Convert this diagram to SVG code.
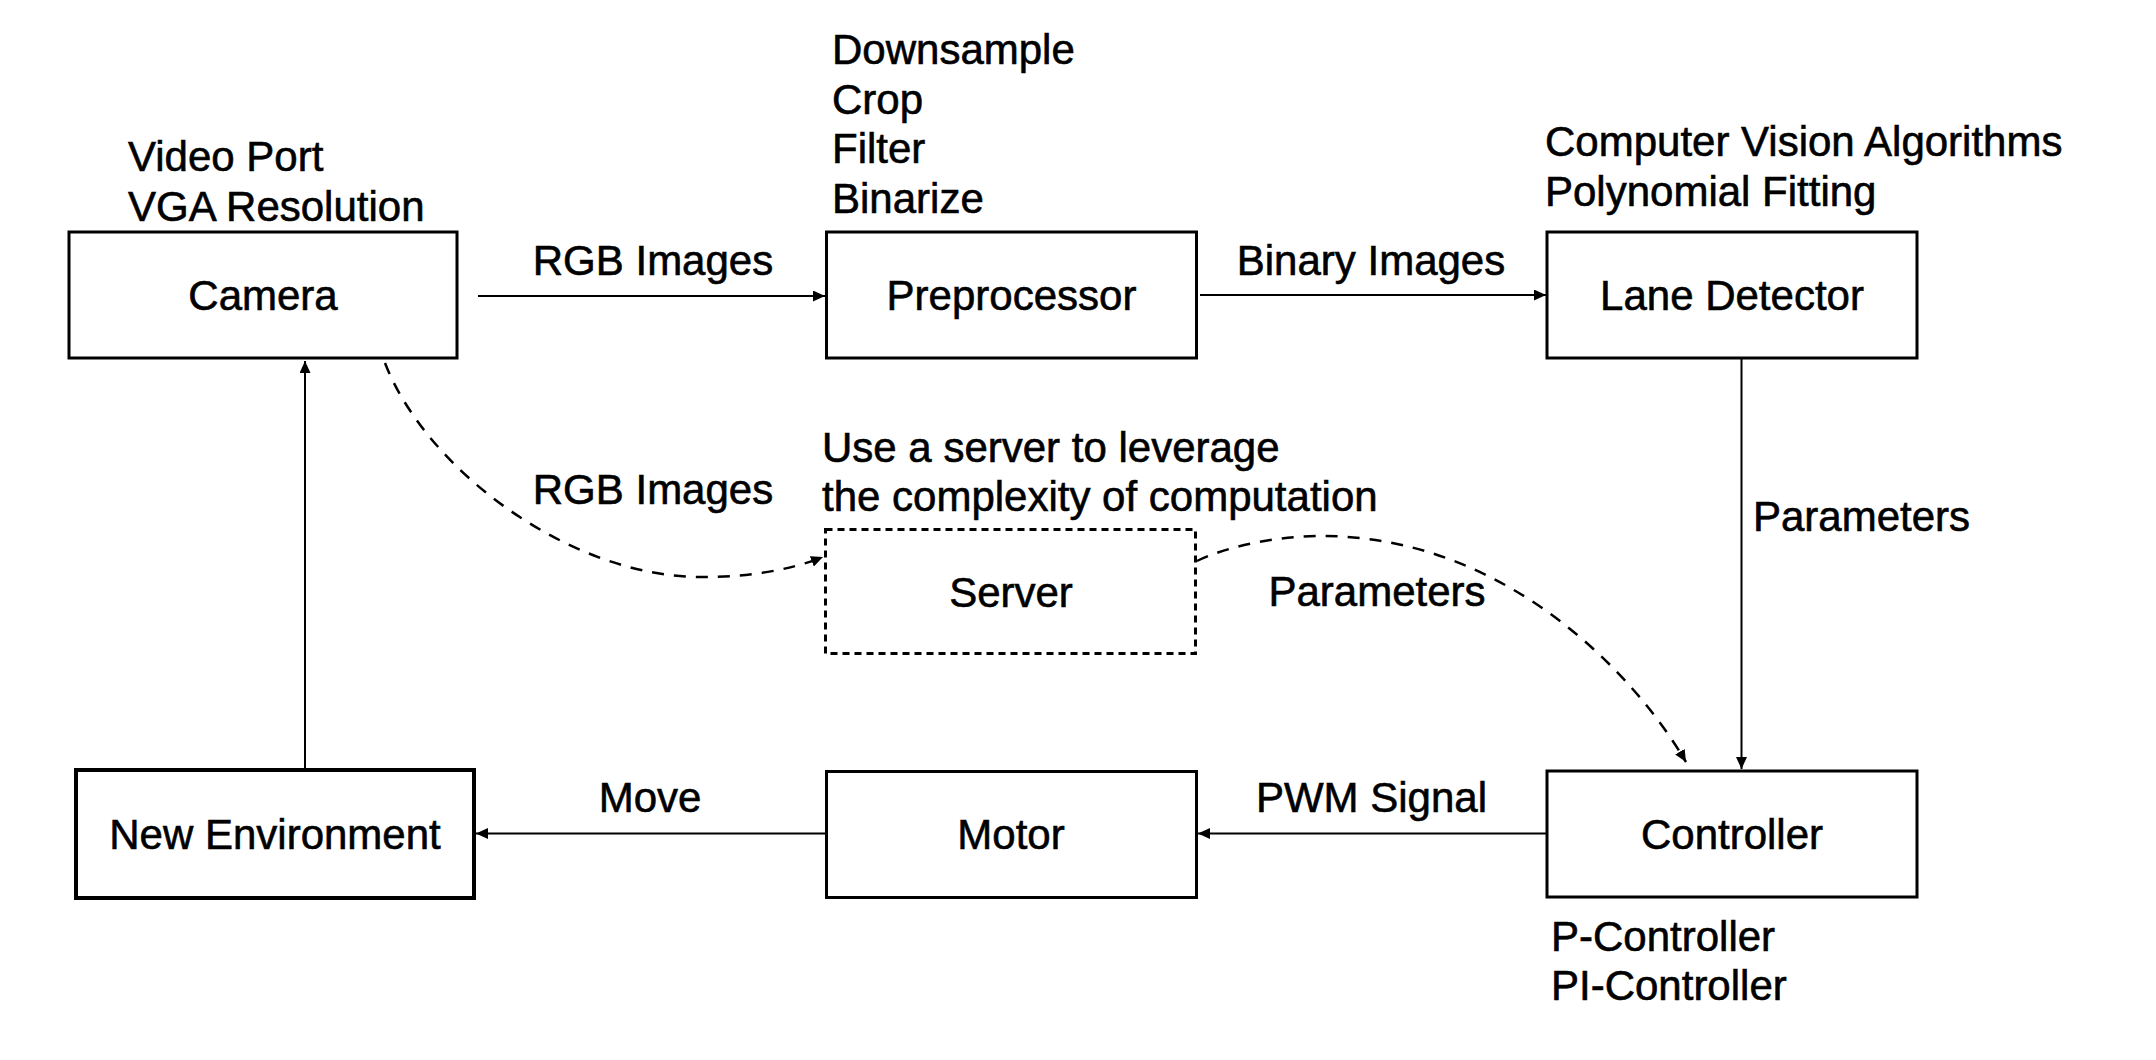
<svg xmlns="http://www.w3.org/2000/svg" width="2156" height="1060" viewBox="0 0 2156 1060">
  <style>
    text { font-family: "Liberation Sans", Arial, Helvetica, sans-serif; font-size: 42px; fill: #000; stroke: #000; stroke-width: 0.6px; }
    .mid { text-anchor: middle; }
    .box { fill: #fff; stroke: #000; stroke-width: 3; }
    .thick { stroke-width: 4; }
    .dbox { fill: none; stroke: #000; stroke-width: 3; stroke-dasharray: 7 5; }
    .conn { fill: none; stroke: #000; stroke-width: 2; }
    .dash { fill: none; stroke: #000; stroke-width: 2.5; stroke-dasharray: 12 10; }
  </style>
  <defs>
    <marker id="arrow" markerUnits="userSpaceOnUse" markerWidth="12" markerHeight="11" refX="12" refY="5.5" orient="auto">
      <path d="M0,0 L12,5.5 L0,11 z" fill="#000"/>
    </marker>
  </defs>
  <rect width="2156" height="1060" fill="#fff"/>

  <g id="connectors">
    <line class="conn" x1="478" y1="296" x2="825" y2="296" marker-end="url(#arrow)"/>
    <line class="conn" x1="1200" y1="295" x2="1546" y2="295" marker-end="url(#arrow)"/>
    <line class="conn" x1="1741.5" y1="359" x2="1741.5" y2="769" marker-end="url(#arrow)"/>
    <line class="conn" x1="1547" y1="833.5" x2="1198" y2="833.5" marker-end="url(#arrow)"/>
    <line class="conn" x1="829" y1="833.5" x2="476" y2="833.5" marker-end="url(#arrow)"/>
    <line class="conn" x1="305" y1="768" x2="305" y2="361" marker-end="url(#arrow)"/>
    <path class="dash" d="M385,363 C427,471 571,577 701,577 C750,577 790,570 823,557" marker-end="url(#arrow)"/>
    <path class="dash" d="M1197,561 C1230,545 1280,536 1322,536 C1502,536 1632,670 1686,762" marker-end="url(#arrow)"/>
  </g>

  <g id="camera">
    <rect class="box" x="69" y="232" width="388" height="126"/>
    <text class="mid" x="263" y="310">Camera</text>
    <text x="128" y="171">Video Port</text>
    <text x="128" y="221">VGA Resolution</text>
  </g>

  <g id="preprocessor">
    <rect class="box" x="826.5" y="232" width="370" height="126"/>
    <text class="mid" x="1011.5" y="310">Preprocessor</text>
    <text x="832" y="64">Downsample</text>
    <text x="832" y="113.5">Crop</text>
    <text x="832" y="163">Filter</text>
    <text x="832" y="212.5">Binarize</text>
  </g>

  <g id="lane-detector">
    <rect class="box" x="1547" y="232" width="370" height="126"/>
    <text class="mid" x="1732" y="310">Lane Detector</text>
    <text x="1545" y="156">Computer Vision Algorithms</text>
    <text x="1545" y="206">Polynomial Fitting</text>
  </g>

  <g id="server">
    <rect class="dbox" x="825.5" y="529.5" width="370" height="124"/>
    <text class="mid" x="1011" y="607">Server</text>
    <text x="822" y="461.5">Use a server to leverage</text>
    <text x="822" y="510.5">the complexity of computation</text>
  </g>

  <g id="new-environment">
    <rect class="box thick" x="76" y="770" width="398" height="128"/>
    <text class="mid" x="275" y="849">New Environment</text>
  </g>

  <g id="motor">
    <rect class="box" x="826.5" y="771.5" width="370" height="126"/>
    <text class="mid" x="1011" y="849">Motor</text>
  </g>

  <g id="controller">
    <rect class="box" x="1547" y="771" width="370" height="126"/>
    <text class="mid" x="1732" y="849">Controller</text>
    <text x="1551" y="951">P-Controller</text>
    <text x="1551" y="1000">PI-Controller</text>
  </g>

  <g id="labels">
    <text class="mid" x="653" y="274.5">RGB Images</text>
    <text class="mid" x="1371" y="274.5">Binary Images</text>
    <text class="mid" x="653" y="503.5">RGB Images</text>
    <text class="mid" x="1377" y="606">Parameters</text>
    <text x="1753" y="531">Parameters</text>
    <text class="mid" x="650" y="812">Move</text>
    <text class="mid" x="1371.5" y="812">PWM Signal</text>
  </g>
</svg>
